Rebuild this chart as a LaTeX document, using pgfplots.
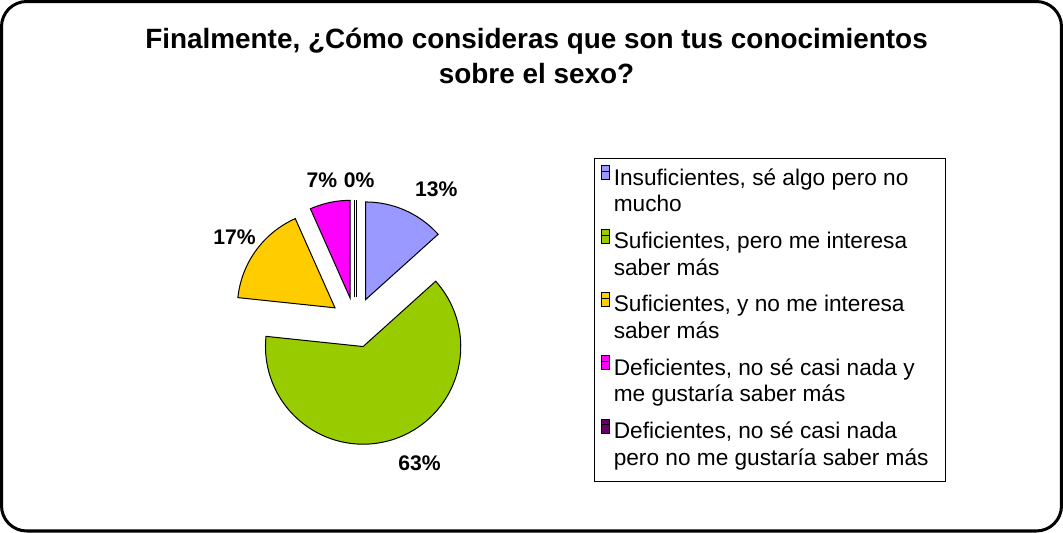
\documentclass[border=0pt]{standalone}
\usepackage{pgfplots}
\pgfplotsset{compat=1.18}
\usepackage{pgfplotstable}
\usepackage{fontspec}
\setmainfont{Liberation Sans}

\definecolor{lav}{HTML}{9999FF}
\definecolor{grn}{HTML}{99CC00}
\definecolor{yel}{HTML}{FFCC00}
\definecolor{mag}{HTML}{FF00FF}
\definecolor{pur}{HTML}{660066}

% shares of answers (out of 30), clockwise from 12 o'clock
\pgfplotstableread{
value color
4 lav
19 grn
5 yel
2 mag
0 pur
}\piedata

\newcommand{\lent}[2]{\parbox[b]{323pt}{\strut #1\\#2\strut\par\kern0pt}}

\begin{document}
\begin{tikzpicture}[x=1pt,y=1pt]
\begin{axis}[
  scale only axis, width=1063pt, height=533pt,
  xmin=0, xmax=1063, ymin=0, ymax=533,
  axis lines=none, clip=false,
  legend style={at={(0.5612,0.69794)}, anchor=north west, draw=black,
    line width=0.8pt, fill=white, inner xsep=6pt, inner ysep=7pt,
    row sep=7.2pt, column sep=4pt,
    font=\fontsize{22.5}{26.7}\selectfont,
    nodes={inner sep=0pt}, cells={anchor=north west}},
  legend image code/.code={\useasboundingbox (0pt,0pt) rectangle (8pt,-13.7pt);
    \draw[#1, line width=0.8pt] (0pt,-5.7pt) rectangle (8pt,-13.7pt);},
]
\def\cx{359}\def\cy{208.5}\def\R{97}\def\ex{25}
\def\cum{0}
\pgfplotsforeachungrouped \i in {0,...,4}{%
  \pgfplotstablegetelem{\i}{value}\of\piedata \let\val\pgfplotsretval
  \pgfplotstablegetelem{\i}{color}\of\piedata \let\col\pgfplotsretval
  \pgfmathsetmacro\sA{90-\cum*12}%
  \pgfmathsetmacro\sB{90-(\cum+\val)*12}%
  \pgfmathsetmacro\sM{(\sA+\sB)/2}%
  \pgfmathsetmacro\ox{\cx+\ex*cos(\sM)}%
  \pgfmathsetmacro\oy{\cy+\ex*sin(\sM)}%
  \ifdim\val pt=0pt
    \pgfmathsetmacro\tx{\ox+\R*cos(\sM)}%
    \pgfmathsetmacro\ty{\oy+\R*sin(\sM)}%
    \edef\doslice{\noexpand\addplot[forget plot, draw=black, line width=1pt, double=white, double distance=1.6pt] coordinates {(\ox,\oy) (\tx,\ty)};}%
  \else
    \edef\doslice{\noexpand\addplot[forget plot, draw=black, line width=1pt, fill=\col, domain=\sB:\sA, samples=90] ({\ox+\R*cos(x)},{\oy+\R*sin(x)}) -- (axis cs:\ox,\oy) -- cycle;}%
  \fi
  \doslice
  \pgfmathsetmacro\cum{\cum+\val}%
}

\addlegendimage{fill=lav, draw=black}
\addlegendentry{\lent{Insuficientes, sé algo pero no}{mucho}}
\addlegendimage{fill=grn, draw=black}
\addlegendentry{\lent{Suficientes, pero me interesa}{saber más}}
\addlegendimage{fill=yel, draw=black}
\addlegendentry{\lent{Suficientes, y no me interesa}{saber más}}
\addlegendimage{fill=mag, draw=black}
\addlegendentry{\lent{Deficientes, no sé casi nada y}{me gustaría saber más}}
\addlegendimage{fill=pur, draw=black}
\addlegendentry{\lent{Deficientes, no sé casi nada}{pero no me gustaría saber más}}

\begin{scope}[every node/.style={font=\bfseries\fontsize{21}{24}\selectfont, inner sep=0pt, anchor=center}]
\node at (axis cs:439.3,340.7) {13\%};
\node at (axis cs:422.7,69) {63\%};
\node at (axis cs:239,293) {17\%};
\node at (axis cs:325.7,350.3) {7\%};
\node at (axis cs:362.7,350.3) {0\%};
\end{scope}

\node[font=\bfseries\fontsize{27.7}{33}\selectfont, anchor=base, inner sep=0pt] at (axis cs:539,481) {Finalmente, ¿Cómo consideras que son tus conocimientos};
\node[font=\bfseries\fontsize{27.7}{33}\selectfont, anchor=base, inner sep=0pt] at (axis cs:539,446) {sobre el sexo?};

\draw[line width=3pt, rounded corners=25pt] (axis cs:7.5,527.5) rectangle (axis cs:1060.5,1.5);
\end{axis}
\end{tikzpicture}
\end{document}
